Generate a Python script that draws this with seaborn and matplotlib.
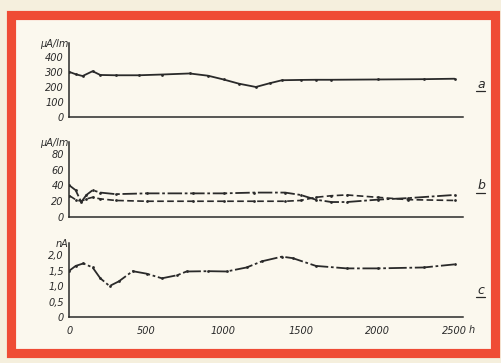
import matplotlib
matplotlib.use("Agg")
import matplotlib.pyplot as plt
from matplotlib.patches import Rectangle
import seaborn as sns
import pandas as pd

# ---- data ----
hours_a = [0, 40, 85, 150, 200, 300, 450, 600, 780, 900, 1000, 1100, 1210, 1300, 1380, 1500, 1600, 1700, 2000, 2300, 2500]
vals_a = [300, 285, 273, 305, 280, 278, 278, 283, 290, 275, 250, 222, 200, 225, 245, 247, 248, 248, 250, 252, 255]

hours_b = [0, 40, 76, 110, 150, 200, 300, 500, 800, 1000, 1200, 1400, 1500, 1600, 1700, 1800, 2000, 2200, 2500]
vals_b_upper = [40, 34, 19, 28, 34, 31, 29, 30, 30, 30, 31, 31, 28, 22, 19, 19, 22, 24, 28]
vals_b_lower = [27, 22, 20, 23, 25, 23, 21, 20, 20, 20, 20, 20, 21, 25, 27, 28, 25, 22, 21]

hours_c = [0, 40, 90, 150, 200, 260, 320, 410, 500, 600, 700, 760, 900, 1020, 1150, 1250, 1380, 1450, 1600, 1800, 2000, 2300, 2500]
vals_c = [1.5, 1.65, 1.73, 1.6, 1.25, 1.0, 1.15, 1.48, 1.4, 1.25, 1.35, 1.47, 1.48, 1.47, 1.6, 1.8, 1.95, 1.9, 1.65, 1.57, 1.57, 1.6, 1.7]

x_ticks = [0, 500, 1000, 1500, 2000, 2500]
x_ticklabels = ["0", "500", "1000", "1500", "2000", "2500"]
ticks_a = [0, 100, 200, 300, 400]
ticks_b = [0, 20, 40, 60, 80]
ticks_c = [0, 0.5, 1.0, 1.5, 2.0]
ticklabels_c = ["0", "0,5", "1,0", "1,5", "2,0"]
panel_letters = ["a", "b", "c"]

sns.set_style("white")
plt.rcParams['font.family'] = ['DejaVu Sans']

W, H = 502, 363
fig = plt.figure(figsize=(W / 100, H / 100), dpi=100)
fig.patch.set_facecolor('#f5efdd')

# red frame
fig.patches.append(Rectangle((11.5 / W, 1 - 353 / H), 484 / W, (353 - 14.5) / H,
                             transform=fig.transFigure, facecolor='#fbf8ee',
                             edgecolor='#ef4c35', linewidth=6.6, zorder=-5))

ink = '#2a2a2a'
tick_font = dict(fontsize=7, style='italic', color=ink)
left = 69.5 / W
width = (463 - 69.5) / W


def make_ax(bottom_px, top_px, ylim_top):
    ax = fig.add_axes([left, 1 - bottom_px / H, width, (bottom_px - top_px) / H])
    ax.set_facecolor('none')
    ax.set_xlim(0, 2555)
    ax.set_ylim(0, ylim_top)
    for s in ['top', 'right']:
        ax.spines[s].set_visible(False)
    for s in ['left', 'bottom']:
        ax.spines[s].set_color(ink)
        ax.spines[s].set_linewidth(1.1)
    ax.tick_params(axis='both', direction='out', length=2.5, width=0.8, color=ink, pad=1.5)
    ax.set_xticks(x_ticks)
    return ax


ax_a = make_ax(117, 43, 493)
ax_b = make_ax(217, 142, 95.2)
ax_c = make_ax(317, 243, 2.39)

df_a = pd.DataFrame({"h": hours_a, "v": vals_a})
df_b1 = pd.DataFrame({"h": hours_b, "v": vals_b_upper})
df_b2 = pd.DataFrame({"h": hours_b, "v": vals_b_lower})
df_c = pd.DataFrame({"h": hours_c, "v": vals_c})

sns.lineplot(data=df_a, x="h", y="v", ax=ax_a, color=ink, linewidth=1.3,
             marker='o', markersize=2, markeredgewidth=0)
sns.lineplot(data=df_b1, x="h", y="v", ax=ax_b, color=ink, linewidth=1.3,
             marker='o', markersize=2, markeredgewidth=0)
ax_b.lines[-1].set_linestyle((0, (8, 1.5, 1.5, 1.5)))
sns.lineplot(data=df_b2, x="h", y="v", ax=ax_b, color=ink, linewidth=1.2,
             marker='o', markersize=2, markeredgewidth=0)
ax_b.lines[-1].set_linestyle((0, (4, 2)))
sns.lineplot(data=df_c, x="h", y="v", ax=ax_c, color=ink, linewidth=1.3,
             marker='o', markersize=2, markeredgewidth=0)
ax_c.lines[-1].set_linestyle((0, (10, 1.5, 1.5, 1.5)))

for ax in (ax_a, ax_b, ax_c):
    ax.set_xlabel("")
    ax.set_ylabel("")

ax_a.set_yticks(ticks_a)
ax_a.set_yticklabels([str(t) for t in ticks_a], **tick_font)
ax_b.set_yticks(ticks_b)
ax_b.set_yticklabels([str(t) for t in ticks_b], **tick_font)
ax_c.set_yticks(ticks_c)
ax_c.set_yticklabels(ticklabels_c, **tick_font)

ax_a.set_xticklabels([])
ax_b.set_xticklabels([])
ax_c.set_xticklabels(x_ticklabels, **tick_font)
ax_c.tick_params(axis='x', pad=4)
ax_c.text(2590, -0.42, "h", ha='left', va='center', **tick_font)

# unit labels at the top of each y axis
ax_a.text(-0.003, 0.99, "μA/lm", transform=ax_a.transAxes, ha='right', va='center', **tick_font)
ax_b.text(-0.003, 0.99, "μA/lm", transform=ax_b.transAxes, ha='right', va='center', **tick_font)
ax_c.text(-0.003, 0.99, "nA", transform=ax_c.transAxes, ha='right', va='center', **tick_font)

# panel letters (underlined)
letter_pos = [(ax_a, 0.44), (ax_b, 0.42), (ax_c, 0.36)]
for (ax, ypos), letter in zip(letter_pos, panel_letters):
    ax.text(1.036, ypos, letter, transform=ax.transAxes,
            ha='left', va='center', fontsize=9, style='italic', color=ink)
    ax.plot([1.034, 1.057], [ypos - 0.095, ypos - 0.095], transform=ax.transAxes,
            color=ink, linewidth=0.9, clip_on=False)

fig.savefig("out.png", dpi=100, facecolor=fig.get_facecolor())
